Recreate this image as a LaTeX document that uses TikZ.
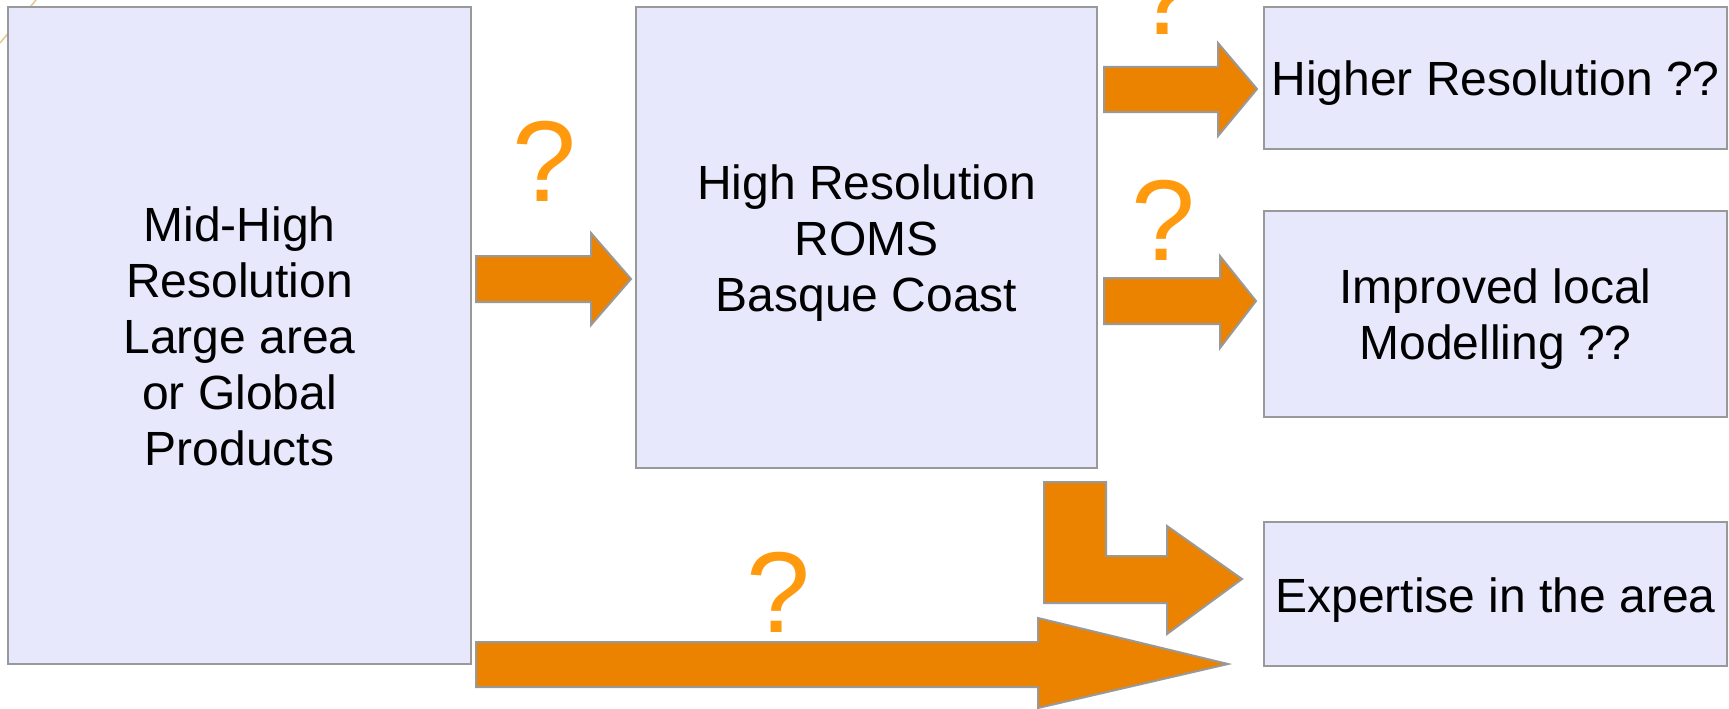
\documentclass[tikz,border=0pt]{standalone}
\usepackage{fontspec}
\setmainfont{Liberation Sans}
\definecolor{boxfill}{RGB}{232,232,252}
\definecolor{boxline}{RGB}{153,153,153}
\definecolor{arrfill}{RGB}{235,130,0}
\definecolor{qcol}{RGB}{255,154,14}
\definecolor{tanline}{RGB}{228,200,140}
\begin{document}
\begin{tikzpicture}[x=1pt,y=-1pt,
  box/.style={draw=boxline, line width=2pt, fill=boxfill, inner sep=0pt},
  txt/.style={align=center, inner sep=0pt, font=\fontsize{48}{56}\selectfont},
  blockarrow/.style={draw=boxline, line width=2pt, fill=arrfill, line join=miter},
  qmark/.style={text=qcol, anchor=base, inner sep=0pt, font=\fontsize{115}{115}\selectfont}]
\useasboundingbox (0,0) rectangle (1729,709);
\draw[tanline, line width=1.5pt] (0,43) -- (36,0);
% boxes
\node[box, minimum width=463pt, minimum height=657pt,
  label={[txt, yshift=-1pt]center:{Mid-High\\Resolution\\Large area\\or Global\\Products}}] (src) at (239.5,335.5) {};
\node[box, minimum width=461pt, minimum height=461pt,
  label={[txt, yshift=-6pt]center:{High Resolution\\ROMS\\Basque Coast}}] (roms) at (866.5,237.5) {};
\node[box, minimum width=463pt, minimum height=142pt,
  label={[txt, yshift=-5pt]center:{Higher Resolution ??}}] (hr) at (1495.5,78) {};
\node[box, minimum width=463pt, minimum height=206pt,
  label={[txt, yshift=-5pt]center:{Improved local\\Modelling ??}}] (loc) at (1495.5,314) {};
\node[box, minimum width=463pt, minimum height=144pt,
  label={[txt, yshift=-6pt]center:{Expertise in the area}}] (exp) at (1495.5,594) {};
% block arrows
\draw[blockarrow] (476,256) -- (591,256) -- (591,233) -- (631,279) -- (591,325) -- (591,302) -- (476,302) -- cycle;
\draw[blockarrow] (1104,67) -- (1218,67) -- (1218,43) -- (1257,89) -- (1218,136) -- (1218,112) -- (1104,112) -- cycle;
\draw[blockarrow] (1104,278) -- (1220,278) -- (1220,256) -- (1256,301) -- (1220,348) -- (1220,324) -- (1104,324) -- cycle;
\draw[blockarrow] (1044,482) -- (1106,482) -- (1106,556) -- (1167,556) -- (1167,526) -- (1242,579) -- (1167,634) -- (1167,603) -- (1044,603) -- cycle;
\draw[blockarrow] (476,642) -- (1038,642) -- (1038,618) -- (1228,664) -- (1038,708) -- (1038,687) -- (476,687) -- cycle;
% question marks
\node[qmark] (q1) at (544,201) {?};
\node[qmark] (q2) at (1163,260) {?};
\node[qmark] (q3) at (778,632) {?};
\node[qmark] (q4) at (1164,35) {?};
\end{tikzpicture}
\end{document}
